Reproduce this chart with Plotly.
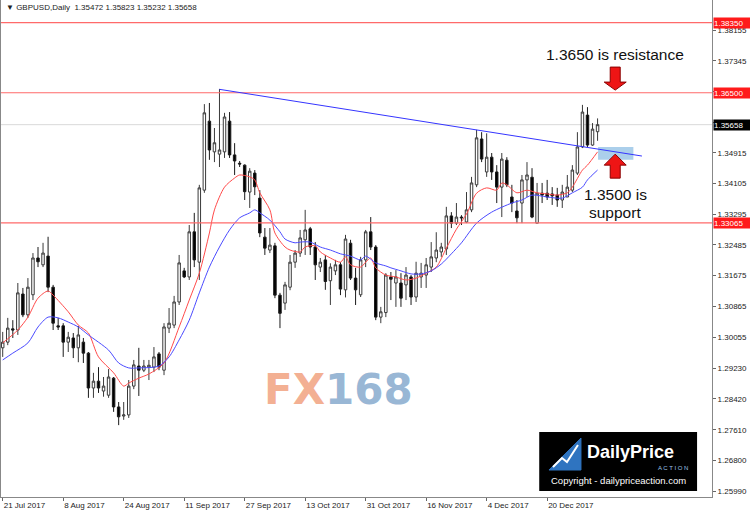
import plotly.graph_objects as go

# ---------------- data ----------------
tick_dates = ["21 Jul 2017", "8 Aug 2017", "24 Aug 2017", "11 Sep 2017", "27 Sep 2017",
              "13 Oct 2017", "31 Oct 2017", "16 Nov 2017", "4 Dec 2017", "20 Dec 2017"]
tick_bars = [0, 12, 24, 36, 48, 60, 72, 84, 96, 108]

opens = [1.2977, 1.2992, 1.3027, 1.3024, 1.3119, 1.3064, 1.3117, 1.3214, 1.3196, 1.3219,
         1.3137, 1.3035, 1.3035, 1.2992, 1.3003, 1.2977, 1.2992, 1.2963, 1.2871, 1.2889,
         1.2863, 1.2852, 1.2897, 1.2821, 1.2797, 1.2800, 1.2876, 1.2929, 1.2918, 1.2926,
         1.2926, 1.2961, 1.2918, 1.3029, 1.3037, 1.3098, 1.3180, 1.3164, 1.3283, 1.3203,
         1.3393, 1.3575, 1.3494, 1.3488, 1.3494, 1.3575, 1.3486, 1.3464, 1.3459, 1.3388,
         1.3438, 1.3372, 1.3269, 1.3235, 1.3246, 1.3116, 1.3095, 1.3137, 1.3203, 1.3227,
         1.3262, 1.3291, 1.3243, 1.3190, 1.3209, 1.3154, 1.3180, 1.3196, 1.3130, 1.3253,
         1.3161, 1.3117, 1.3209, 1.3283, 1.3243, 1.3058, 1.3070, 1.3164, 1.3148, 1.3148,
         1.3143, 1.3164, 1.3111, 1.3164, 1.3169, 1.3190, 1.3214, 1.3230, 1.3238, 1.3325,
         1.3306, 1.3322, 1.3309, 1.3341, 1.3407, 1.3528, 1.3441, 1.3480, 1.3441, 1.3401,
         1.3472, 1.3375, 1.3338, 1.3359, 1.3420, 1.3427, 1.3306, 1.3385, 1.3385, 1.3383,
         1.3380, 1.3367, 1.3375, 1.3393, 1.3438, 1.3507, 1.3591, 1.3512, 1.35472]
highs = [1.3019, 1.3056, 1.3050, 1.3148, 1.3135, 1.3161, 1.3227, 1.3243, 1.3254, 1.3270,
         1.3143, 1.3056, 1.3042, 1.3019, 1.3016, 1.3035, 1.3003, 1.2966, 1.2911, 1.2926,
         1.2900, 1.2921, 1.2900, 1.2834, 1.2834, 1.2892, 1.2945, 1.2977, 1.2945, 1.2945,
         1.2979, 1.2966, 1.3042, 1.3082, 1.3114, 1.3222, 1.3188, 1.3301, 1.3333, 1.3407,
         1.3620, 1.3623, 1.3557, 1.3660, 1.3597, 1.3599, 1.3517, 1.3470, 1.3461, 1.3451,
         1.3446, 1.3393, 1.3293, 1.3293, 1.3254, 1.3122, 1.3151, 1.3222, 1.3235, 1.3288,
         1.3341, 1.3296, 1.3256, 1.3214, 1.3222, 1.3200, 1.3209, 1.3203, 1.3275, 1.3262,
         1.3188, 1.3217, 1.3288, 1.3322, 1.3248, 1.3085, 1.3174, 1.3177, 1.3182, 1.3174,
         1.3190, 1.3169, 1.3204, 1.3201, 1.3214, 1.3256, 1.3282, 1.3254, 1.3349, 1.3335,
         1.3359, 1.3327, 1.3388, 1.3428, 1.3552, 1.3546, 1.3543, 1.3491, 1.3459, 1.3491,
         1.3480, 1.3407, 1.3367, 1.3433, 1.3467, 1.3451, 1.3412, 1.3412, 1.3420, 1.3401,
         1.3399, 1.3407, 1.3433, 1.3459, 1.3546, 1.3618, 1.3612, 1.3570, 1.35823]
lows = [1.2953, 1.2984, 1.3003, 1.3011, 1.3058, 1.3056, 1.3103, 1.3190, 1.3190, 1.3124,
        1.3024, 1.3024, 1.2953, 1.2966, 1.2950, 1.2939, 1.2937, 1.2845, 1.2845, 1.2858,
        1.2848, 1.2845, 1.2808, 1.2773, 1.2787, 1.2792, 1.2868, 1.2850, 1.2913, 1.2892,
        1.2913, 1.2918, 1.2905, 1.3016, 1.3029, 1.3090, 1.3161, 1.3156, 1.3190, 1.3156,
        1.3386, 1.3473, 1.3467, 1.3454, 1.3478, 1.3478, 1.3433, 1.3454, 1.3367, 1.3346,
        1.3380, 1.3269, 1.3222, 1.3227, 1.3108, 1.3029, 1.3077, 1.3129, 1.3188, 1.3217,
        1.3222, 1.3222, 1.3156, 1.3177, 1.3130, 1.3090, 1.3169, 1.3116, 1.3110, 1.3156,
        1.3090, 1.3111, 1.3190, 1.3235, 1.3050, 1.3042, 1.3058, 1.3103, 1.3085, 1.3085,
        1.3103, 1.3090, 1.3098, 1.3135, 1.3135, 1.3177, 1.3203, 1.3217, 1.3222, 1.3293,
        1.3301, 1.3301, 1.3306, 1.3335, 1.3401, 1.3467, 1.3428, 1.3420, 1.3359, 1.3322,
        1.3401, 1.3335, 1.3306, 1.3306, 1.3375, 1.3319, 1.3306, 1.3359, 1.3367, 1.3354,
        1.3349, 1.3346, 1.3375, 1.3388, 1.3433, 1.3504, 1.3507, 1.3510, 1.35232]
closes = [1.2992, 1.3029, 1.3024, 1.3122, 1.3064, 1.3137, 1.3214, 1.3204, 1.3227, 1.3137,
          1.3042, 1.3032, 1.2992, 1.3005, 1.2977, 1.3011, 1.2963, 1.2871, 1.2889, 1.2871,
          1.2876, 1.2900, 1.2821, 1.2795, 1.2800, 1.2876, 1.2932, 1.2918, 1.2929, 1.2931,
          1.2953, 1.2926, 1.3032, 1.3042, 1.3098, 1.3201, 1.3164, 1.3283, 1.3209, 1.3399,
          1.3597, 1.3499, 1.3518, 1.3499, 1.3586, 1.3486, 1.3470, 1.3462, 1.3389, 1.3443,
          1.3402, 1.3280, 1.3240, 1.3248, 1.3116, 1.3068, 1.3143, 1.3203, 1.3227, 1.3267,
          1.3288, 1.3243, 1.3196, 1.3203, 1.3152, 1.3190, 1.3196, 1.3132, 1.3264, 1.3161,
          1.3130, 1.3209, 1.3283, 1.3243, 1.3058, 1.3072, 1.3169, 1.3158, 1.3164, 1.3108,
          1.3169, 1.3111, 1.3174, 1.3174, 1.3196, 1.3217, 1.3235, 1.3243, 1.3325, 1.3306,
          1.3322, 1.3320, 1.3341, 1.3412, 1.3531, 1.3475, 1.3480, 1.3441, 1.3401, 1.3475,
          1.3407, 1.3359, 1.3320, 1.3420, 1.3433, 1.3322, 1.3385, 1.3380, 1.3375, 1.3378,
          1.3367, 1.3388, 1.3401, 1.3446, 1.3507, 1.3599, 1.3512, 1.3554, 1.35658]

# moving averages (bar index, price)
ma_red_bar = [0, 3, 5, 7, 9, 10, 13, 15, 17, 19, 22, 24, 25, 27, 29, 32, 35, 37, 39, 41, 42, 44,
              46, 47, 49, 50, 51, 53, 54, 56, 57, 59, 60, 62, 63, 65, 67, 68, 69, 71, 72, 73,
              74, 76, 78, 80, 82, 84, 86, 88, 90, 92, 94, 96, 98, 99, 100, 102, 104, 106, 108,
              110, 112, 113, 115, 116, 118]
ma_red_val = [1.2990, 1.3024, 1.3058, 1.3108, 1.3127, 1.3116, 1.3072, 1.3037, 1.3016, 1.2953,
              1.2911, 1.2876, 1.2884, 1.2897, 1.2908, 1.2937, 1.3032, 1.3103, 1.3174, 1.3280,
              1.3341, 1.3401, 1.3425, 1.3433, 1.3428, 1.3420, 1.3386, 1.3341, 1.3280, 1.3243,
              1.3235, 1.3230, 1.3243, 1.3246, 1.3230, 1.3214, 1.3203, 1.3217, 1.3196, 1.3190,
              1.3203, 1.3214, 1.3188, 1.3169, 1.3164, 1.3156, 1.3161, 1.3174, 1.3190, 1.3240,
              1.3290, 1.3330, 1.3385, 1.3399, 1.3393, 1.3412, 1.3407, 1.3386, 1.3393, 1.3386,
              1.3383, 1.3380, 1.3386, 1.3401, 1.3446, 1.3459, 1.3494]
ma_blue_bar = [0, 2, 5, 7, 9, 11, 13, 15, 17, 21, 23, 25, 27, 31, 33, 35, 37, 39, 41, 43, 45,
               47, 49, 50, 51, 53, 55, 56, 58, 59, 61, 63, 65, 67, 69, 71, 72, 74, 76, 77, 79,
               81, 83, 85, 87, 89, 91, 94, 97, 101, 103, 105, 108, 111, 113, 115, 116, 118]
ma_blue_val = [1.2945, 1.2963, 1.2990, 1.3032, 1.3058, 1.3056, 1.3045, 1.3032, 1.3011, 1.2971,
               1.2937, 1.2924, 1.2924, 1.2929, 1.2953, 1.2998, 1.3050, 1.3122, 1.3190, 1.3243,
               1.3288, 1.3320, 1.3333, 1.3341, 1.3333, 1.3314, 1.3283, 1.3264, 1.3254, 1.3256,
               1.3256, 1.3243, 1.3235, 1.3225, 1.3219, 1.3209, 1.3219, 1.3201, 1.3193, 1.3188,
               1.3180, 1.3172, 1.3172, 1.3180, 1.3198, 1.3225, 1.3254, 1.3306, 1.3335, 1.3359,
               1.3367, 1.3380, 1.3375, 1.3372, 1.3386, 1.3401, 1.3420, 1.3446]

level_lines = [1.38350, 1.36500, 1.33065]
current_price = 1.35658
y_ticks = [1.38155, 1.37345, 1.36535, 1.35725, 1.34915, 1.34105, 1.33295, 1.32485, 1.31675,
           1.30865, 1.30055, 1.29230, 1.28420, 1.27610, 1.26800, 1.25990]
trend_bars = [43, 126.8]
trend_prices = [1.3659, 1.3483]
zone_bars = [118.1, 125.1]
zone_prices = [1.3473, 1.3507]
resistance_arrow = (121.5, 1.3657)
support_arrow = (121.5, 1.3488)
header = "\u25BC GBPUSD,Daily  1.35472 1.35823 1.35232 1.35658"

bars = list(range(len(opens)))

fig = go.Figure()

fig.add_trace(go.Candlestick(
    x=bars, open=opens, high=highs, low=lows, close=closes,
    increasing=dict(line=dict(color="#3a3a3a", width=1), fillcolor="white"),
    decreasing=dict(line=dict(color="#1a1a1a", width=1), fillcolor="black"),
    whiskerwidth=0, showlegend=False, hoverinfo="skip"))

fig.add_trace(go.Scatter(x=ma_red_bar, y=ma_red_val, mode="lines",
                         line=dict(color="#ff4a4a", width=1, shape="spline", smoothing=0.8),
                         showlegend=False, hoverinfo="skip"))
fig.add_trace(go.Scatter(x=ma_blue_bar, y=ma_blue_val, mode="lines",
                         line=dict(color="#4a4aff", width=1, shape="spline", smoothing=0.8),
                         showlegend=False, hoverinfo="skip"))

shapes = []
shapes.append(dict(type="line", xref="paper", x0=0, x1=1, yref="y", y0=current_price, y1=current_price,
                   line=dict(color="#d9d9d9", width=1), layer="below"))
for lv in level_lines:
    shapes.append(dict(type="line", xref="paper", x0=0, x1=1, yref="y", y0=lv, y1=lv,
                       line=dict(color="#ff6a6a", width=1.2), layer="above"))
shapes.append(dict(type="rect", xref="x", yref="y", x0=zone_bars[0], x1=zone_bars[1],
                   y0=zone_prices[0], y1=zone_prices[1], fillcolor="rgba(150,195,230,0.8)",
                   line=dict(width=0), layer="above"))
shapes.append(dict(type="line", xref="x", yref="y", x0=trend_bars[0], x1=trend_bars[1],
                   y0=trend_prices[0], y1=trend_prices[1], line=dict(color="#3535ff", width=1)))
down_path = "M -5,23 L 5,23 L 5,8 L 11,8 L 0,0 L -11,8 L -5,8 Z"
up_path = "M 0,0 L 11,-11 L 5,-11 L 5,-24 L -5,-24 L -5,-11 L -11,-11 Z"
for (ax_, ay_), p in [(resistance_arrow, down_path), (support_arrow, up_path)]:
    shapes.append(dict(type="path", xref="x", yref="y", xsizemode="pixel", ysizemode="pixel",
                       xanchor=ax_, yanchor=ay_, path=p, fillcolor="#ee1515",
                       line=dict(color="#8a0000", width=1)))
# DailyPriceAction box
shapes.append(dict(type="rect", xref="paper", yref="paper", x0=0.757, x1=0.979, y0=0.012, y1=0.131,
                   fillcolor="black", line=dict(width=0)))
# logo icon (blue badge with a rising white line)
shapes.append(dict(type="path", xref="paper", yref="paper", xsizemode="pixel", ysizemode="pixel",
                   xanchor=0.7932, yanchor=0.0845,
                   path="M -16,-15 L 16,-15 L 16,17 Z",
                   fillcolor="#2f74c0", line=dict(color="#2f74c0", width=1)))
shapes.append(dict(type="path", xref="paper", yref="paper", xsizemode="pixel", ysizemode="pixel",
                   xanchor=0.7932, yanchor=0.0845,
                   path="M -12,-12 L -3,-3 L 2,-7 L 13,10",
                   line=dict(color="white", width=2)))

annotations = []
annotations.append(dict(text=header, xref="paper", yref="paper", x=0.004, y=0.998, xanchor="left",
                        yanchor="top", showarrow=False, font=dict(family="Liberation Sans", size=8, color="#222")))
annotations.append(dict(text="1.3650 is resistance", xref="x", yref="y", x=121.5, y=1.37522,
                        showarrow=False, font=dict(family="Liberation Sans", size=15.5, color="#111")))
annotations.append(dict(text="1.3500 is", xref="x", yref="y", x=121.5, y=1.33828,
                        showarrow=False, font=dict(family="Liberation Sans", size=15.5, color="#111")))
annotations.append(dict(text="support", xref="x", yref="y", x=121.5, y=1.33353,
                        showarrow=False, font=dict(family="Liberation Sans", size=15.5, color="#111")))
annotations.append(dict(text="<b><span style='color:rgba(240,150,112,0.75)'>FX</span>"
                             "<span style='color:rgba(120,160,200,0.75)'>168</span></b>",
                        xref="paper", yref="paper", x=0.4747, y=0.2153, xanchor="center", yanchor="middle",
                        showarrow=False, font=dict(family="DejaVu Sans", size=42)))
annotations.append(dict(text="<b>DailyPrice</b>", xref="paper", yref="paper", x=0.8214, y=0.0905,
                        xanchor="left", yanchor="middle", showarrow=False,
                        font=dict(family="Liberation Sans", size=18, color="white")))
annotations.append(dict(text="A C T I O N", xref="paper", yref="paper", x=0.969, y=0.058, xanchor="right",
                        yanchor="middle", showarrow=False,
                        font=dict(family="Liberation Sans", size=6, color="#9fc3e8")))
annotations.append(dict(text="Copyright - dailypriceaction.com", xref="paper", yref="paper", x=0.869,
                        y=0.0322, xanchor="center", yanchor="middle", showarrow=False,
                        font=dict(family="Liberation Sans", size=9.5, color="white")))
for lv in level_lines:
    annotations.append(dict(text=f"{lv:.5f}", xref="paper", yref="y", x=1, y=lv, xanchor="left",
                            yanchor="middle", xshift=1, showarrow=False, bgcolor="#ff1a1a", borderpad=0,
                            width=36, height=10, align="left",
                            font=dict(family="Liberation Sans", size=8, color="white")))
annotations.append(dict(text=f"{current_price:.5f}", xref="paper", yref="y", x=1, y=current_price,
                        xanchor="left", yanchor="middle", xshift=1, showarrow=False, bgcolor="black",
                        borderpad=0, width=36, height=10, align="left",
                        font=dict(family="Liberation Sans", size=8, color="white")))

fig.update_layout(
    width=750, height=519,
    margin=dict(l=1, r=38, t=0, b=22),
    paper_bgcolor="white", plot_bgcolor="white",
    shapes=shapes, annotations=annotations,
    showlegend=False,
    xaxis=dict(range=[-0.34, 140.7], rangeslider=dict(visible=False), showgrid=False, zeroline=False,
               tickmode="array", tickvals=tick_bars, ticktext=tick_dates,
               ticks="outside", ticklen=3, tickcolor="#666", ticklabelposition="outside right",
               tickfont=dict(family="Liberation Sans", size=8, color="#222"),
               showline=True, linecolor="#888", mirror=True, fixedrange=True),
    yaxis=dict(range=[1.25834, 1.38947], side="right", showgrid=False, zeroline=False,
               tickmode="array", tickvals=y_ticks, ticktext=[f"{v:.5f}" for v in y_ticks],
               ticks="outside", ticklen=3, tickcolor="#666",
               tickfont=dict(family="Liberation Sans", size=8, color="#222"),
               showline=True, linecolor="#888", mirror=True, fixedrange=True),
)

fig.write_html("out.html", config={"displayModeBar": False},
               post_script="document.body.style.margin='0';document.body.style.overflow='hidden';")
